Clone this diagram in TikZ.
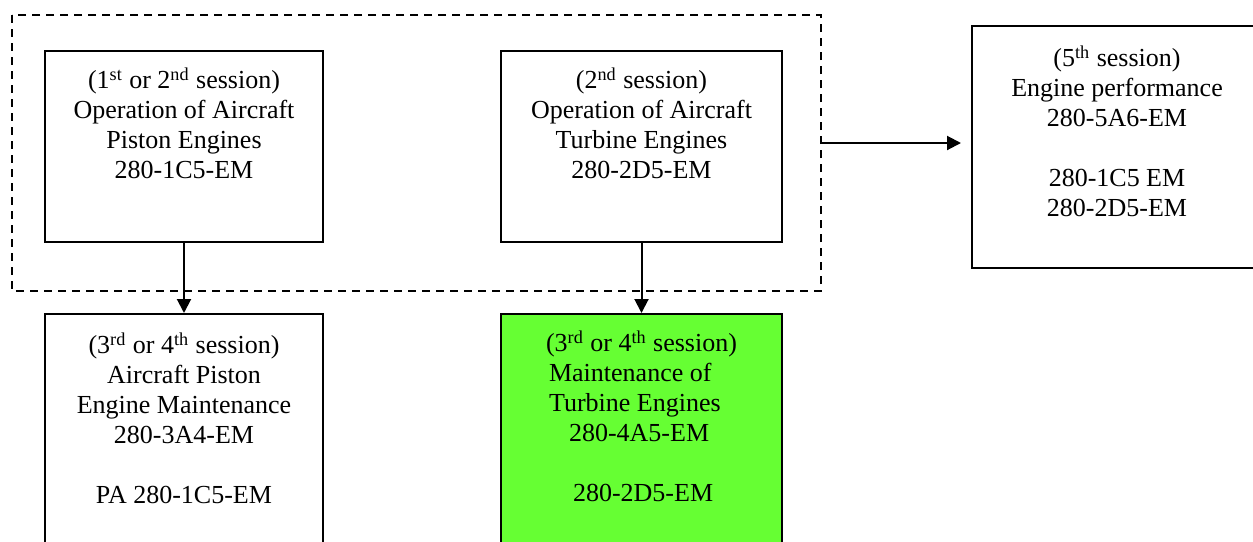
\documentclass[tikz,border=0pt]{standalone}
\usepackage{fontspec}
\setmainfont{Liberation Serif}
\usepackage{xcolor}
\usepackage{tikz}
\usetikzlibrary{arrows.meta}
\definecolor{turbgreen}{RGB}{102,255,51}

\begin{document}
\begin{tikzpicture}[x=0.5pt,y=-0.5pt,>={Triangle[length=7pt,width=7pt]},
  course/.style={draw,line width=1pt,anchor=north west,inner sep=0pt,minimum height=95.5pt},
  info/.style={anchor=north,inner sep=0pt,yshift=-8.5pt,align=center,font=\fontsize{13pt}{15pt}\selectfont}]
\clip (0,0) rectangle (1253,541);
\draw[line width=1.2pt,dash pattern=on 4pt off 3pt] (12,15) rectangle (821,291);
\coordinate (exit) at (821,143);

\node[course,minimum width=139pt,label={[info]north:{(1\textsuperscript{st} or 2\textsuperscript{nd} session)\\Operation of Aircraft\\Piston Engines\\280-1C5-EM}}] (pistonop) at (44,50) {};
\node[course,minimum width=140.5pt,label={[info]north:{(2\textsuperscript{nd} session)\\Operation of Aircraft\\Turbine Engines\\280-2D5-EM}}] (turbop) at (500,50) {};
\node[course,minimum width=145pt,minimum height=121pt,label={[info,yshift=-1.5pt]north:{(5\textsuperscript{th} session)\\Engine performance\\280-5A6-EM\\[15pt]280-1C5 EM\\280-2D5-EM}}] (perf) at (971,25) {};
\node[course,minimum width=139pt,minimum height=150pt,label={[info,yshift=-1pt]north:{(3\textsuperscript{rd} or 4\textsuperscript{th} session)\\Aircraft Piston\\Engine Maintenance\\280-3A4-EM\\[15pt]PA 280-1C5-EM}}] (pistonmt) at (44,313) {};
\node[course,fill=turbgreen,minimum width=140.5pt,minimum height=150pt,label={[info,align=left]north:{(3\textsuperscript{rd} or 4\textsuperscript{th} session)\\\hspace*{1.5pt}Maintenance of\\\hspace*{1.5pt}Turbine Engines\\\hspace*{11.5pt}280-4A5-EM\\[15pt]\hspace*{13.5pt}280-2D5-EM}}] (turbmt) at (500,313) {};

\path[->,line width=1pt]
         (pistonop)edge(pistonmt)
         (turbop)edge(turbmt)
         (exit)edge[shorten >=5pt](exit -| perf.west);
\end{tikzpicture}
\end{document}
